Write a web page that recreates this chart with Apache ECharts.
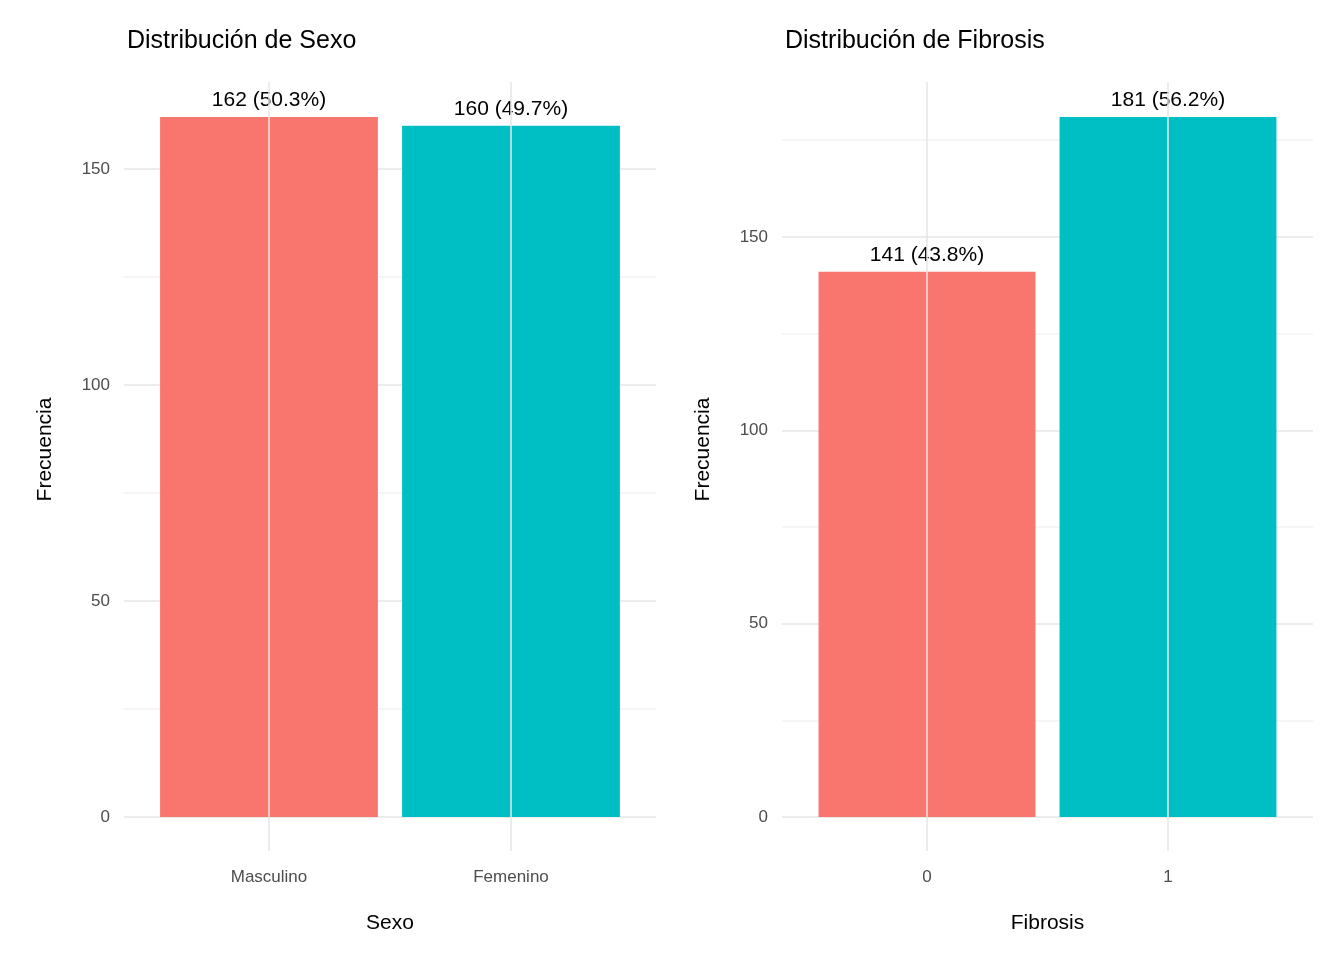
<!DOCTYPE html>
<html>
<head>
<meta charset="utf-8">
<script src="https://cdn.jsdelivr.net/npm/echarts@6/dist/echarts.min.js"></script>
<style>html,body{margin:0;background:#fff}#c{width:1344px;height:960px}</style>
</head>
<body>
<div id="c"></div>
<script>
const sexCategories = ['Masculino', 'Femenino'];
const sexCounts = [162, 160];
const fibCategories = ['0', '1'];
const fibCounts = [141, 181];
const barColors = ['#F8766D', '#00BFC4'];
const font = 'Liberation Sans, Arial, sans-serif';

function pct(counts) {
  const total = counts.reduce((a, b) => a + b, 0);
  return counts.map(v => v + ' (' + (v / total * 100).toFixed(1) + '%)');
}

function gridColors(max) {
  const c = [];
  for (let v = 0; v < max; v += 25) c.push(v % 50 === 0 ? '#e6e6e6' : '#f2f2f2');
  c.push('transparent');
  return c;
}

const panels = [
  {title: 'Distribución de Sexo', cats: sexCategories, counts: sexCounts, xname: 'Sexo', outer: [124, 656], inner: [148, 632]},
  {title: 'Distribución de Fibrosis', cats: fibCategories, counts: fibCounts, xname: 'Fibrosis', outer: [782, 1313], inner: [806.5, 1288.5]}
];

const option = {title: [], grid: [], xAxis: [], yAxis: [], series: [], animation: false};
panels.forEach((p, i) => {
  const max = Math.max(...p.counts) * 1.05;
  const labels = pct(p.counts);
  option.title.push({text: p.title, left: p.outer[0] - 2, top: 24,
    textStyle: {fontFamily: font, fontSize: 25, fontWeight: 'normal', color: '#000'}});
  option.grid.push({left: p.outer[0], width: p.outer[1] - p.outer[0], top: 82, bottom: 143});
  option.grid.push({left: p.inner[0], width: p.inner[1] - p.inner[0], top: 82, bottom: 143});
  option.xAxis.push({gridIndex: 2 * i, type: 'value', min: 0, max: 1, show: false});
  option.yAxis.push({gridIndex: 2 * i, type: 'value', min: 0, max: max, interval: 25,
    name: 'Frecuencia', nameLocation: 'middle', nameGap: 68,
    nameTextStyle: {fontFamily: font, fontSize: 21, color: '#000'},
    axisLine: {show: false}, axisTick: {show: false},
    axisLabel: {fontFamily: font, fontSize: 17, color: '#4d4d4d', margin: 14, showMaxLabel: false,
      formatter: v => (v % 50 === 0 ? String(v) : '')},
    splitLine: {lineStyle: {color: gridColors(max), width: 1.5}}});
  option.xAxis.push({gridIndex: 2 * i + 1, type: 'category', data: p.cats,
    name: p.xname, nameLocation: 'middle', nameGap: 96,
    nameTextStyle: {fontFamily: font, fontSize: 21, color: '#000'},
    axisLine: {show: false},
    axisTick: {show: true, alignWithLabel: true, length: 34, lineStyle: {color: '#e6e6e6', width: 1.5}},
    axisLabel: {fontFamily: font, fontSize: 17, color: '#4d4d4d', margin: 52},
    splitLine: {show: false}});
  option.yAxis.push({gridIndex: 2 * i + 1, type: 'value', min: 0, max: max, show: false});
  option.series.push({type: 'line', xAxisIndex: 2 * i + 1, yAxisIndex: 2 * i + 1, data: [], z: 1,
    markLine: {silent: true, symbol: 'none', label: {show: false},
      lineStyle: {color: '#e6e6e6', width: 1.5, type: 'solid'},
      data: p.cats.map(c => ({xAxis: c}))}});
  option.series.push({type: 'bar', xAxisIndex: 2 * i + 1, yAxisIndex: 2 * i + 1, z: 3,
    barWidth: '90%',
    data: p.counts.map((v, k) => ({value: v, itemStyle: {color: barColors[k]}})),
    label: {show: true, position: 'top', distance: 6, fontFamily: font, fontSize: 21, color: '#000',
      formatter: d => labels[d.dataIndex]}});
});

echarts.init(document.getElementById('c')).setOption(option);
</script>
</body>
</html>
